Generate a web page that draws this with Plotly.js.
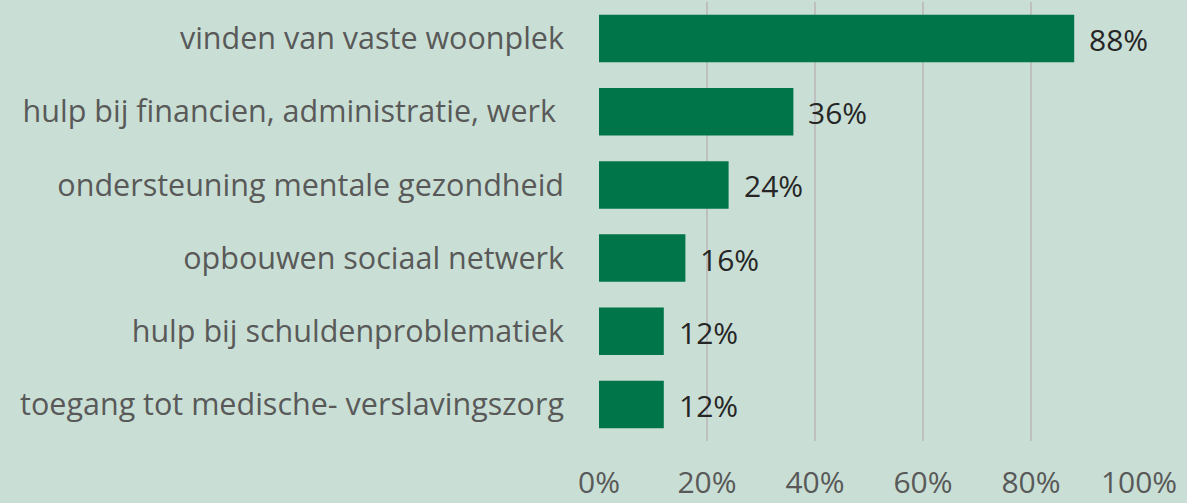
<!DOCTYPE html>
<html><head><meta charset="utf-8">
<script src="https://cdn.plot.ly/plotly-3.0.1.min.js"></script>
<style>html,body{margin:0;padding:0;background:#c9dfd5;}</style>
</head><body>
<div id="chart" style="width:1187px;height:503px;"></div>
<script>
const categories = [
  "vinden van vaste woonplek",
  "hulp bij financien, administratie, werk ",
  "ondersteuning mentale gezondheid",
  "opbouwen sociaal netwerk",
  "hulp bij schuldenproblematiek",
  "toegang tot medische- verslavingszorg"
];
const values = [88, 36, 24, 16, 12, 12];
const valueLabels = ["88%", "36%", "24%", "16%", "12%", "12%"];
const tickVals = [0, 20, 40, 60, 80, 100];
const tickText = ["0%", "20%", "40%", "60%", "80%", "100%"];

const font = "'Open Sans', sans-serif";
const trace = {
  type: "bar", orientation: "h",
  x: values, y: categories,
  marker: {color: "#00754a"},
  width: 0.65,
  hoverinfo: "none"
};
const annotations = values.map((v, i) => ({
  x: v, y: categories[i], xref: "x", yref: "y",
  text: valueLabels[i], showarrow: false,
  xanchor: "left", xshift: 13, yshift: -1,
  font: {family: font, size: 30, color: "#262626"}
}));
const layout = {
  width: 1187, height: 503,
  paper_bgcolor: "#c9dfd5", plot_bgcolor: "#c9dfd5",
  margin: {l: 599, r: 48, t: 2, b: 62},
  showlegend: false,
  bargap: 0.36,
  xaxis: {
    range: [0, 100], tickvals: tickVals, ticktext: tickText,
    showgrid: true, gridcolor: "#bfbfbf", gridwidth: 2,
    zeroline: false, showline: false,
    tickfont: {family: font, size: 30, color: "#595959"},
    ticklabelstandoff: 21, fixedrange: true
  },
  yaxis: {
    autorange: "reversed", showgrid: false, zeroline: false, showline: false,
    tickfont: {family: font, size: 30.5, color: "#595959"},
    ticklabelstandoff: 34, fixedrange: true
  },
  annotations: annotations
};
Plotly.newPlot("chart", [trace], layout, {displayModeBar: false, staticPlot: true});
</script>
</body></html>
